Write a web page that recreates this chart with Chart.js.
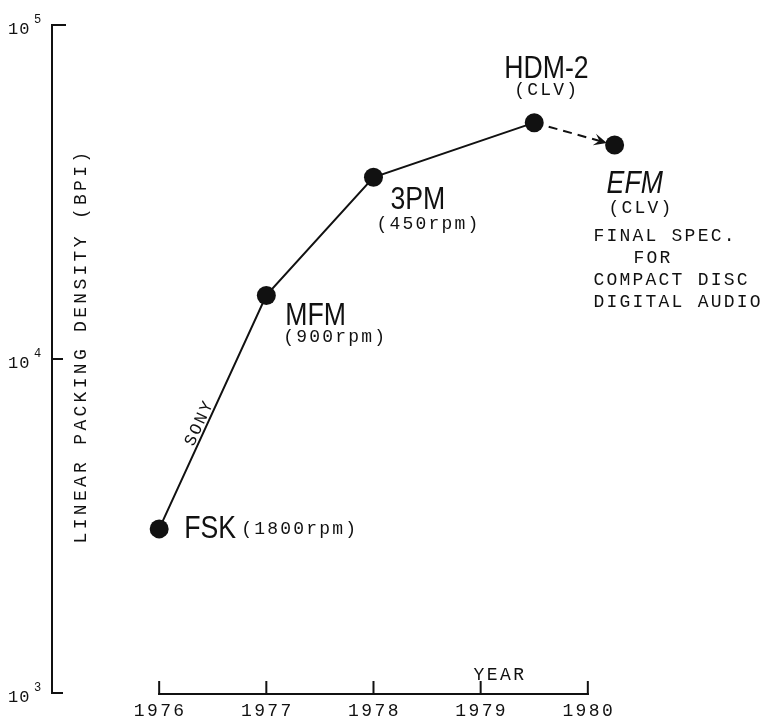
<!DOCTYPE html>
<html><head><meta charset="utf-8">
<script src="https://cdn.jsdelivr.net/npm/chart.js@4/dist/chart.umd.min.js"></script>
<style>html,body{margin:0;padding:0;background:#fff}</style>
</head><body>
<canvas id="c" width="784" height="724"></canvas>
<script>
// ---- data ----
const years = [1976, 1977, 1978, 1979.5];
const density = [3100, 15500, 35000, 51000];
const codes = ['FSK', 'MFM', '3PM', 'HDM-2'];
const notes = ['(1800rpm)', '(900rpm)', '(450rpm)', '(CLV)'];
const finalYears = [1979.5, 1980.25];
const finalDensity = [51000, 43700];
const finalCode = 'EFM';
const finalNotes = ['(CLV)', 'FINAL SPEC.', 'FOR', 'COMPACT DISC', 'DIGITAL AUDIO'];
const yearTicks = [1976, 1977, 1978, 1979, 1980];
const decadeTicks = [1000, 10000, 100000];
const decadeExp = ['3', '4', '5'];
const yTitle = 'LINEAR PACKING DENSITY (BPI)';
const xTitle = 'YEAR';
const lineNote = 'SONY';

// ---- styling ----
const MONO = '"Liberation Mono", "DejaVu Sans Mono", monospace';
const HAND = '"Liberation Sans", "DejaVu Sans", sans-serif';
const INK = '#111';
const codeOff = [[25, 9], [19, 30], [17, 32], [-30, -45]];
const noteOff = [[82, 0], [17, 42], [3, 47], [-20, -32]];
const finalCodeOff = [-8, 48];
const finalNoteOff = [[-6, 63], [-21, 91], [19, 113], [-21, 135], [-21, 157]];

function monoText(ctx, t, x, y, size, spacing, align) {
  ctx.font = size + 'px ' + MONO;
  ctx.letterSpacing = spacing + 'px';
  ctx.textAlign = align || 'left';
  ctx.textBaseline = 'middle';
  ctx.fillText(t, x, y);
  ctx.letterSpacing = '0px';
}
function handText(ctx, t, x, y, italic) {
  ctx.save();
  ctx.translate(x, y);
  ctx.scale(0.86, 1);
  ctx.font = (italic ? 'italic ' : '') + '31px ' + HAND;
  ctx.textAlign = 'left';
  ctx.textBaseline = 'alphabetic';
  ctx.fillText(t, 0, 0);
  ctx.restore();
}

const deco = {
  id: 'deco',
  afterDatasetsDraw(chart) {
    const ctx = chart.ctx;
    const xs = chart.scales.x, ys = chart.scales.y;
    const ca = chart.chartArea;
    ctx.save();
    ctx.fillStyle = INK;
    ctx.strokeStyle = INK;
    ctx.lineWidth = 2;
    ctx.lineCap = 'square';

    // y axis
    const x0 = ca.left;
    const yTop = ys.getPixelForValue(decadeTicks[decadeTicks.length - 1]);
    const yBot = ys.getPixelForValue(decadeTicks[0]);
    ctx.beginPath();
    ctx.moveTo(x0, yTop); ctx.lineTo(x0, yBot); ctx.stroke();
    decadeTicks.forEach((v, i) => {
      const py = ys.getPixelForValue(v);
      const len = (i === decadeTicks.length - 1) ? 13 : 10;
      ctx.beginPath(); ctx.moveTo(x0, py); ctx.lineTo(x0 + len, py); ctx.stroke();
      monoText(ctx, '10', 8, py + 4, 17, 1, 'left');
      monoText(ctx, decadeExp[i], 34, py - 5, 12, 0, 'left');
    });
    // y title
    ctx.save();
    ctx.translate(81, 346);
    ctx.rotate(-Math.PI / 2);
    monoText(ctx, yTitle, 0, 0, 18, 3.3, 'center');
    ctx.restore();

    // x axis (year)
    const xa = xs.getPixelForValue(yearTicks[0]);
    const xb = xs.getPixelForValue(yearTicks[yearTicks.length - 1]);
    const yAx = yBot + 1;
    ctx.beginPath(); ctx.moveTo(xa, yAx); ctx.lineTo(xb, yAx); ctx.stroke();
    yearTicks.forEach(v => {
      const px = xs.getPixelForValue(v);
      ctx.beginPath(); ctx.moveTo(px, yAx); ctx.lineTo(px, yAx - 12); ctx.stroke();
      monoText(ctx, String(v), px + 1, yAx + 17, 18, 2.4, 'center');
    });
    monoText(ctx, xTitle, 500, yAx - 19, 18, 2.4, 'center');

    // point labels
    const m0 = chart.getDatasetMeta(0).data;
    m0.forEach((pt, i) => {
      handText(ctx, codes[i], pt.x + codeOff[i][0], pt.y + codeOff[i][1], false);
      monoText(ctx, notes[i], pt.x + noteOff[i][0], pt.y + noteOff[i][1], 18, 2.2, 'left');
    });
    const m1 = chart.getDatasetMeta(1).data;
    const a = m1[0], b = m1[1];
    handText(ctx, finalCode, b.x + finalCodeOff[0], b.y + finalCodeOff[1], true);
    finalNotes.forEach((t, i) => {
      monoText(ctx, t, b.x + finalNoteOff[i][0], b.y + finalNoteOff[i][1], 18, 2.2, 'left');
    });

    // arrow head on dashed segment
    const dx = b.x - a.x, dy = b.y - a.y, L = Math.hypot(dx, dy);
    const ux = dx / L, uy = dy / L;
    const tipX = b.x - ux * 8, tipY = b.y - uy * 8;
    const back = 13, wing = 6;
    ctx.beginPath();
    ctx.moveTo(tipX, tipY);
    ctx.lineTo(tipX - ux * back - uy * wing, tipY - uy * back + ux * wing);
    ctx.lineTo(tipX - ux * back * 0.6, tipY - uy * back * 0.6);
    ctx.lineTo(tipX - ux * back + uy * wing, tipY - uy * back - ux * wing);
    ctx.closePath();
    ctx.fill();

    // SONY along first segment
    const p = m0[0], q = m0[1];
    const ang = Math.atan2(q.y - p.y, q.x - p.x);
    const t = 0.44;
    ctx.save();
    ctx.translate(p.x + (q.x - p.x) * t, p.y + (q.y - p.y) * t);
    ctx.rotate(ang);
    ctx.font = '17px ' + MONO;
    ctx.letterSpacing = '2px';
    ctx.textAlign = 'center';
    ctx.textBaseline = 'alphabetic';
    ctx.fillText(lineNote, 0, -3);
    ctx.restore();

    ctx.restore();
  }
};

new Chart(document.getElementById('c'), {
  type: 'line',
  data: {
    datasets: [
      {
        data: years.map((x, i) => ({ x: x, y: density[i] })),
        borderColor: INK, borderWidth: 2, tension: 0,
        pointRadius: 9.5, pointBackgroundColor: INK, pointBorderWidth: 0
      },
      {
        data: finalYears.map((x, i) => ({ x: x, y: finalDensity[i] })),
        borderColor: INK, borderWidth: 2, borderDash: [9, 6], tension: 0,
        pointRadius: [0, 9.5], pointBackgroundColor: INK, pointBorderWidth: 0
      }
    ]
  },
  options: {
    responsive: false,
    animation: false,
    devicePixelRatio: 1,
    layout: { padding: { left: 52, right: 14, top: 25, bottom: 31 } },
    plugins: { legend: { display: false }, tooltip: { enabled: false } },
    scales: {
      x: { type: 'linear', min: 1975, max: 1981.7, display: false },
      y: { type: 'logarithmic', min: 1000, max: 100000, display: false }
    }
  },
  plugins: [deco]
});
</script>
</body></html>
